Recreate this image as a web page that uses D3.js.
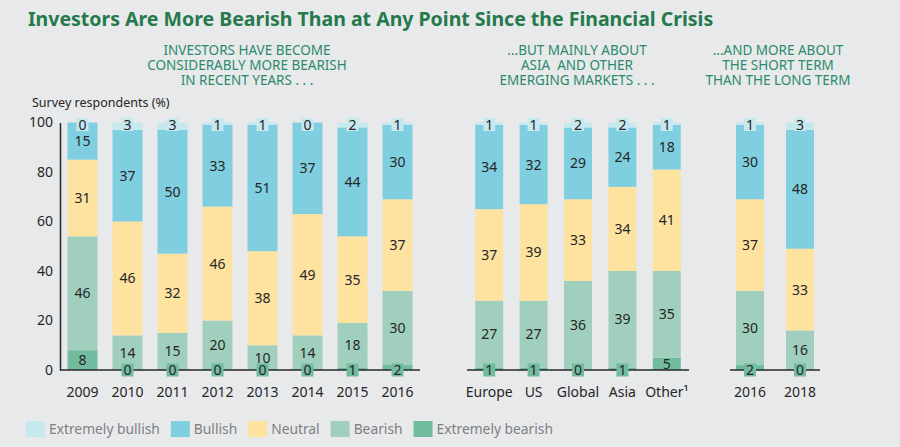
<!DOCTYPE html>
<html>
<head>
<meta charset="utf-8">
<script src="https://cdn.jsdelivr.net/npm/d3@7"></script>
<style>
	body { margin: 0; background: #e8e9eb; }
	svg { display: block; font-family: 'Noto Sans', sans-serif; }
</style>
</head>
<body>
<div id="chart"></div>
<script>
// Series in legend order (top of the stack first)
const seriesNames = ['Extremely bullish', 'Bullish', 'Neutral', 'Bearish', 'Extremely bearish'];
const seriesColours = ['#c6e8ef', '#7fcfe0', '#fde2a0', '#a0cfbe', '#71bc9f'];

// Panel 1: by survey year
const years = ['2009', '2010', '2011', '2012', '2013', '2014', '2015', '2016'];
const yearValues = [
	[0, 3, 3, 1, 1, 0, 2, 1],
	[15, 37, 50, 33, 51, 37, 44, 30],
	[31, 46, 32, 46, 38, 49, 35, 37],
	[46, 14, 15, 20, 10, 14, 18, 30],
	[8, 0, 0, 0, 0, 0, 1, 2],
];

// Panel 2: by region
const regions = ['Europe', 'US', 'Global', 'Asia', 'Other¹'];
const regionValues = [
	[1, 1, 2, 2, 1],
	[34, 32, 29, 24, 18],
	[37, 39, 33, 34, 41],
	[27, 27, 36, 39, 35],
	[1, 1, 0, 1, 5],
];

// Panel 3: short term vs long term
const horizons = ['2016', '2018'];
const horizonValues = [
	[1, 3],
	[30, 48],
	[37, 33],
	[30, 16],
	[2, 0],
];

const yTicks = [0, 20, 40, 60, 80, 100];

const title = 'Investors Are More Bearish Than at Any Point Since the Financial Crisis';
const yLabel = 'Survey respondents (%)';
const headers = [
	['INVESTORS HAVE BECOME', 'CONSIDERABLY MORE BEARISH', 'IN RECENT YEARS . . .'],
	['...BUT MAINLY ABOUT', 'ASIA  AND OTHER', 'EMERGING MARKETS . . .'],
	['...AND MORE ABOUT', 'THE SHORT TERM', 'THAN THE LONG TERM'],
];

const width = 900;
const height = 447;
const textColour = '#262626';

const colour = d3.scaleOrdinal().domain(seriesNames).range(seriesColours);
const y = d3.scaleLinear().domain([0, 100]).range([370, 122.5]);

// Panel layout (band ranges along the x axis and header centres)
const panels = [
	{ cats: years, values: yearValues, header: headers[0], range: [60, 420], inner: 1 / 3, outer: 1 / 6, hx: 247 },
	{ cats: regions, values: regionValues, header: headers[1], range: [467, 689], inner: 0.37, outer: 0.185, hx: 577 },
	{ cats: horizons, values: horizonValues, header: headers[2], range: [730, 820], inner: 0.44, outer: 0.12, hx: 778 },
];

const svg = d3.select('#chart')
	.append('svg')
	.attr('width', width)
	.attr('height', height);

svg.append('rect')
	.attr('width', width)
	.attr('height', height)
	.attr('fill', '#e8e9eb');

// Title
svg.append('text')
	.attr('x', 28)
	.attr('y', 26)
	.attr('font-size', 19.5)
	.attr('font-weight', 700)
	.attr('fill', '#25794b')
	.text(title);

svg.append('text')
	.attr('x', 32)
	.attr('y', 107)
	.attr('font-size', 12.5)
	.attr('fill', textColour)
	.text(yLabel);

// Y axis
svg.append('g')
	.attr('transform', 'translate(60,0)')
	.call(d3.axisLeft(y).tickValues(yTicks).tickSize(0).tickPadding(7))
	.call((g) => g.attr('font-family', null).attr('font-size', 14))
	.call((g) => g.select('.domain').attr('stroke', textColour).attr('stroke-width', 1.5))
	.call((g) => g.selectAll('.tick text').attr('fill', textColour));

panels.forEach((p) => {
	const x = d3.scaleBand()
		.domain(p.cats)
		.range(p.range)
		.paddingInner(p.inner)
		.paddingOuter(p.outer);

	// Build one row per category and stack from extremely bearish upward
	const rows = p.cats.map((c, i) => {
		const row = { cat: c };
		seriesNames.forEach((s, k) => { row[s] = p.values[k][i]; });
		return row;
	});
	const stacked = d3.stack().keys(seriesNames.slice().reverse())(rows);

	const g = svg.append('g');

	// Header
	g.append('text')
		.attr('text-anchor', 'middle')
		.attr('font-size', 13.5)
		.attr('fill', '#2b8a6c')
		.selectAll('tspan')
		.data(p.header)
		.join('tspan')
		.attr('x', p.hx)
		.attr('y', (d, i) => 55 + i * 15)
		.attr('xml:space', 'preserve')
		.text((d) => d);

	// Bar segments
	g.selectAll('g.layer')
		.data(stacked)
		.join('g')
		.attr('class', 'layer')
		.attr('fill', (d) => colour(d.key))
		.selectAll('rect')
		.data((d) => d)
		.join('rect')
		.attr('x', (d) => x(d.data.cat))
		.attr('y', (d) => y(d[1]))
		.attr('width', x.bandwidth())
		.attr('height', (d) => y(d[0]) - y(d[1]));

	// Baseline
	g.append('line')
		.attr('x1', p.range[0])
		.attr('x2', p.range[1])
		.attr('y1', y(0))
		.attr('y2', y(0))
		.attr('stroke', textColour)
		.attr('stroke-width', 1.5);

	// Segment labels; the thin extreme segments get a small tag on the edge
	const labels = [];
	stacked.forEach((layer) => {
		layer.forEach((d) => {
			const v = d[1] - d[0];
			const label = {
				v: v,
				key: layer.key,
				cx: x(d.data.cat) + x.bandwidth() / 2,
				cy: y((d[0] + d[1]) / 2),
				boxed: false,
			};
			if (layer.key === 'Extremely bullish') {
				label.cy = y(100) + 2;
				label.boxed = true;
			} else if (layer.key === 'Extremely bearish' && v < 5) {
				label.cy = y(0);
				label.boxed = true;
			}
			labels.push(label);
		});
	});

	g.selectAll('rect.tag')
		.data(labels.filter((d) => d.boxed))
		.join('rect')
		.attr('class', 'tag')
		.attr('x', (d) => d.cx - 6)
		.attr('y', (d) => d.cy - 6.5)
		.attr('width', 12)
		.attr('height', 13)
		.attr('fill', (d) => colour(d.key));

	g.selectAll('text.value')
		.data(labels)
		.join('text')
		.attr('class', 'value')
		.attr('x', (d) => d.cx)
		.attr('y', (d) => d.cy)
		.attr('dy', '0.36em')
		.attr('text-anchor', 'middle')
		.attr('font-size', 14)
		.attr('fill', textColour)
		.text((d) => d.v);

	// Category labels
	g.selectAll('text.cat')
		.data(p.cats)
		.join('text')
		.attr('class', 'cat')
		.attr('x', (d) => x(d) + x.bandwidth() / 2)
		.attr('y', 397)
		.attr('text-anchor', 'middle')
		.attr('font-size', 14)
		.attr('fill', textColour)
		.text((d) => d);
});

// Legend, laid out by measured text widths
const legend = svg.append('g').attr('font-size', 13.8).attr('fill', '#7d7f82');
let lx = 26;
seriesNames.forEach((s) => {
	legend.append('rect')
		.attr('x', lx)
		.attr('y', 421)
		.attr('width', 19)
		.attr('height', 16)
		.attr('fill', colour(s));
	const t = legend.append('text')
		.attr('x', lx + 23)
		.attr('y', 434)
		.text(s);
	lx += 23 + t.node().getComputedTextLength() + 11;
});
</script>
</body>
</html>
